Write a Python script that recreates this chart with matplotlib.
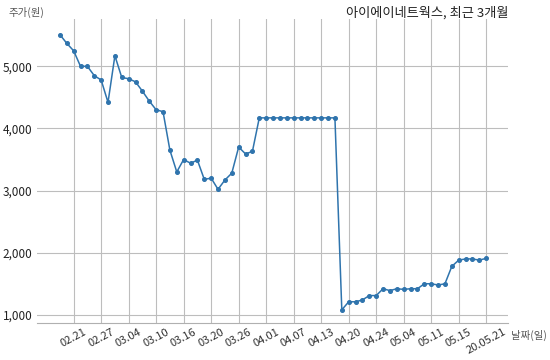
import numpy as np
import matplotlib.pyplot as plt

plt.rcParams['font.family'] = ['Noto Sans CJK KR', 'DejaVu Sans']

# 종가 (원)
prices = [5510, 5370, 5250, 5000, 5000, 4850, 4780, 4420, 5170, 4820,
          4800, 4750, 4600, 4440, 4300, 4270, 3650, 3300, 3500, 3440,
          3490, 3180, 3200, 3020, 3170, 3280, 3700, 3590, 3630,
          4170, 4170, 4170, 4170, 4170, 4170, 4170, 4170, 4170, 4170,
          4170, 4170,
          1080, 1210, 1210, 1240, 1310, 1310, 1420, 1390, 1420, 1410,
          1420, 1420, 1500, 1500, 1480, 1500, 1780, 1880, 1900, 1900,
          1880, 1910]
tick_labels = ['02.21', '02.27', '03.04', '03.10', '03.16', '03.20', '03.26',
               '04.01', '04.07', '04.13', '04.20', '04.24', '05.04', '05.11',
               '05.15', '20.05.21']
y_ticks = [1000, 2000, 3000, 4000, 5000]


def main():
    fig = plt.figure(figsize=(5.5, 3.6), dpi=100)
    ax = fig.add_axes([0.067, 0.103, 0.857, 0.844])

    x = np.arange(len(prices))
    ax.plot(x, prices, '-o', color='#2f74ad', lw=1.1, ms=2.6)

    ax.set_xticks(np.arange(2, len(prices), 4))
    ax.set_xticklabels(tick_labels, rotation=28, fontsize=8, color='#333333')
    ax.set_yticks(y_ticks)
    ax.set_yticklabels(['{:,}'.format(v) for v in y_ticks], fontsize=8.5,
                       color='#222222')
    ax.set_xlim(-3.35, 65.2)
    ax.set_ylim(870, 5760)

    ax.grid(True, color='#bdbdbd', lw=0.8)
    ax.tick_params(length=0, pad=3)
    for s in ['top', 'right', 'left']:
        ax.spines[s].set_visible(False)
    ax.spines['bottom'].set_color('#b0b0b0')

    fig.text(0.015, 0.955, '주가(원)', fontsize=7.5, color='#555555')
    fig.text(0.925, 0.955, '아이에이네트웍스, 최근 3개월', fontsize=9.5,
             ha='right', color='#222222')
    fig.text(0.93, 0.06, '날짜(일)', fontsize=7.5, color='#555555')

    fig.savefig('out.png', dpi=100)


if __name__ == "__main__":
    main()
